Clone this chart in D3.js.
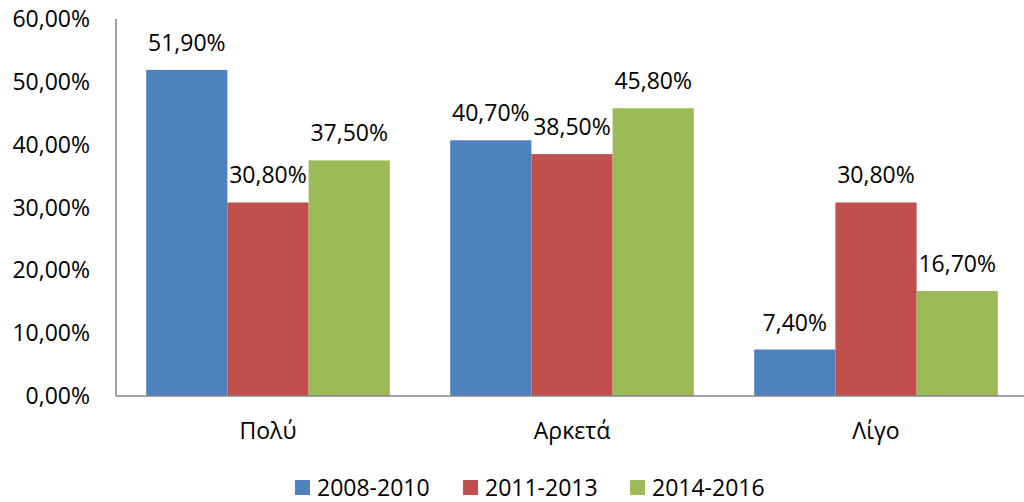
<!DOCTYPE html>
<html>
<head>
<meta charset="utf-8">
<script src="https://cdn.jsdelivr.net/npm/d3@7"></script>
<style>
  body { margin: 0; background: #fff; }
  text { font-family: "Open Sans", sans-serif; fill: #000; }
</style>
</head>
<body>
<svg id="chart"></svg>
<script>
var categories = ["Πολύ", "Αρκετά", "Λίγο"];
var series = ["2008-2010", "2011-2013", "2014-2016"];
var values2008 = [51.9, 40.7, 7.4];
var values2011 = [30.8, 38.5, 30.8];
var values2014 = [37.5, 45.8, 16.7];
var yTicks = [0, 10, 20, 30, 40, 50, 60];
var colors = ["#4F81BD", "#C0504D", "#9BBB59"];

var width = 1024, height = 502;
// the plot area runs a little past the right edge of the picture
var plotLeft = 116, plotRight = 1028, plotTop = 19, plotBottom = 396;
var fontSize = "23px";

var rows = categories.map(function(c, i) {
  return {cat: c, vals: [values2008[i], values2011[i], values2014[i]]};
});

var svg = d3.select("#chart")
  .attr("width", width)
  .attr("height", height);

var x0 = d3.scaleBand()
  .domain(categories)
  .range([plotLeft, plotRight])
  .padding(0);

var x1 = d3.scaleBand()
  .domain(d3.range(series.length))
  .range([0, x0.bandwidth()])
  .paddingInner(0)
  .paddingOuter(0.372);

var y = d3.scaleLinear()
  .domain([0, 60])
  .range([plotBottom, plotTop]);

var fmt = function(v) { return v.toFixed(2).replace(".", ",") + "%"; };

// y tick labels
svg.append("g").selectAll("text")
  .data(yTicks).enter()
  .append("text")
  .attr("x", 90)
  .attr("y", function(d) { return y(d); })
  .attr("dy", "0.35em")
  .attr("text-anchor", "end")
  .style("font-size", fontSize)
  .text(fmt);

// bars
var groups = svg.append("g").selectAll("g")
  .data(rows).enter()
  .append("g")
  .attr("transform", function(d) { return "translate(" + x0(d.cat) + ",0)"; });

groups.selectAll("rect")
  .data(function(d) { return d.vals; }).enter()
  .append("rect")
  .attr("x", function(d, i) { return x1(i); })
  .attr("y", function(d) { return y(d); })
  .attr("width", x1.bandwidth())
  .attr("height", function(d) { return plotBottom - y(d); })
  .attr("fill", function(d, i) { return colors[i]; });

groups.selectAll("text")
  .data(function(d) { return d.vals; }).enter()
  .append("text")
  .attr("x", function(d, i) { return x1(i) + x1.bandwidth() / 2; })
  .attr("y", function(d) { return y(d) - 19; })
  .attr("text-anchor", "middle")
  .style("font-size", fontSize)
  .text(fmt);

// axes lines
svg.append("line")
  .attr("x1", plotLeft).attr("x2", plotLeft)
  .attr("y1", plotTop).attr("y2", plotBottom)
  .attr("stroke", "#868686").attr("stroke-width", 1.5);
svg.append("line")
  .attr("x1", plotLeft).attr("x2", plotRight)
  .attr("y1", plotBottom).attr("y2", plotBottom)
  .attr("stroke", "#868686").attr("stroke-width", 1.5);

// category labels
svg.append("g").selectAll("text")
  .data(categories).enter()
  .append("text")
  .attr("x", function(d) { return x0(d) + x0.bandwidth() / 2; })
  .attr("y", 431)
  .attr("dy", "0.35em")
  .attr("text-anchor", "middle")
  .style("font-size", fontSize)
  .text(function(d) { return d; });

// legend
var legendX = [295, 463, 630];
var legend = svg.append("g").selectAll("g")
  .data(series).enter()
  .append("g")
  .attr("transform", function(d, i) { return "translate(" + legendX[i] + ",480)"; });

legend.append("rect")
  .attr("width", 15).attr("height", 15)
  .attr("fill", function(d, i) { return colors[i]; });

legend.append("text")
  .attr("x", 22)
  .attr("y", 8)
  .attr("dy", "0.35em")
  .style("font-size", fontSize)
  .text(function(d) { return d; });
</script>
</body>
</html>
